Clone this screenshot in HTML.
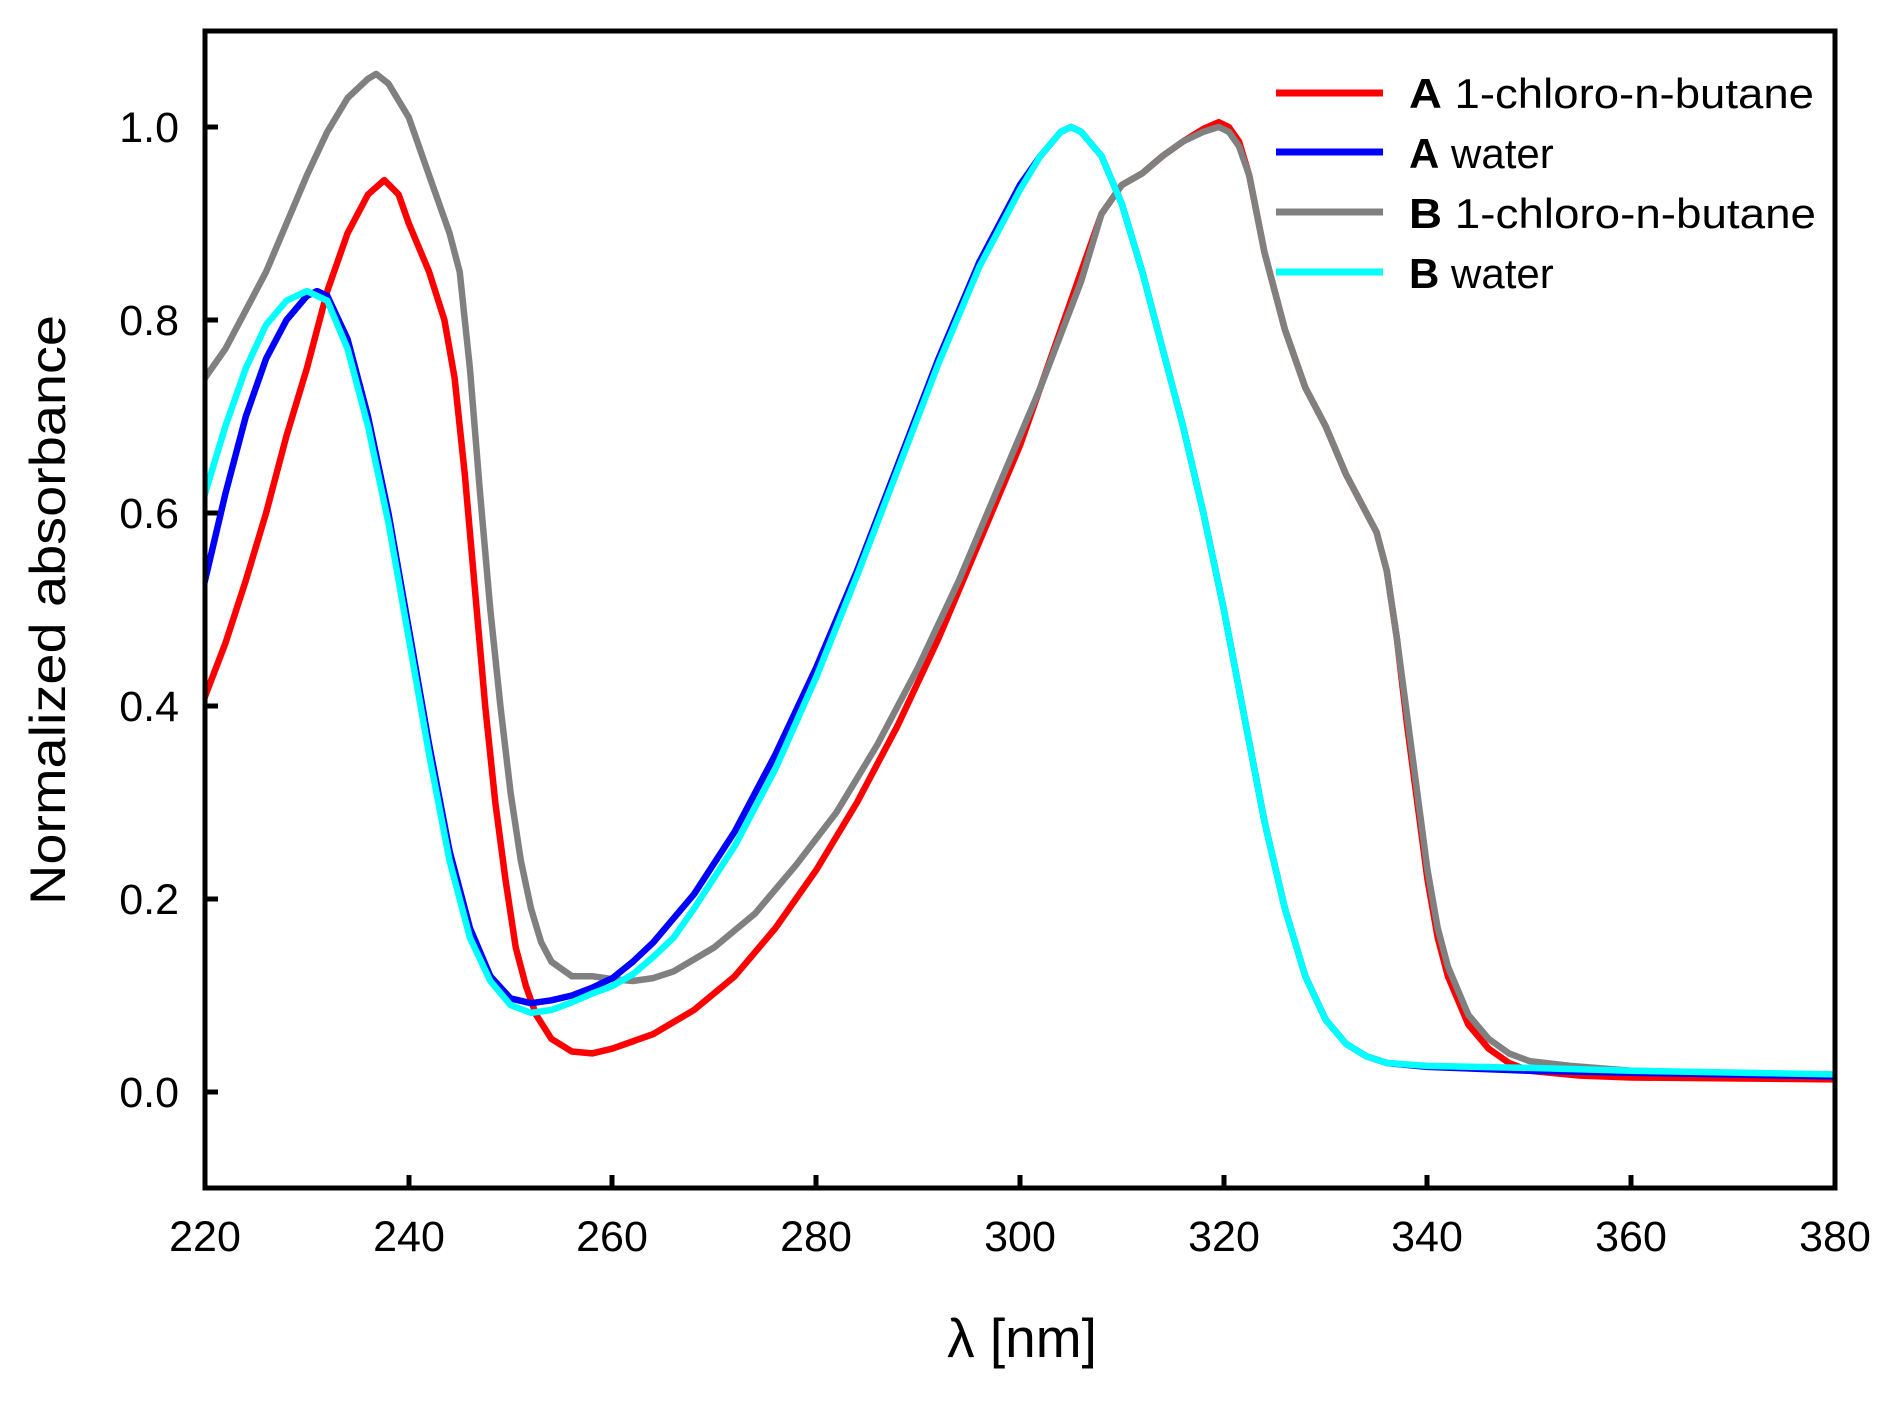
<!DOCTYPE html>
<html><head><meta charset="utf-8"><style>html,body{margin:0;padding:0;background:#fff}</style></head>
<body>
<svg id="s" width="1899" height="1398" viewBox="0 0 1899 1398" xmlns="http://www.w3.org/2000/svg" font-family="Liberation Sans, Arial, sans-serif">
<rect width="1899" height="1398" fill="#fff"/>
<defs><clipPath id="c"><rect x="205" y="31" width="1630" height="1157"/></clipPath></defs>
<g clip-path="url(#c)" fill="none" stroke-width="6.5" stroke-linejoin="round" stroke-linecap="round">
<polyline stroke="#ff0000" data-p="219,0.37 220,0.41 222,0.465 224,0.53 226,0.60 228,0.68 230,0.75 232,0.83 234,0.89 236,0.93 237.6,0.945 239,0.93 240,0.90 242,0.85 243.5,0.80 244.5,0.74 245.5,0.64 246.5,0.52 247.5,0.40 248.5,0.30 249.5,0.22 250.5,0.15 251.5,0.11 252.5,0.08 254,0.055 256,0.042 258,0.04 260,0.045 264,0.06 268,0.085 272,0.12 276,0.17 280,0.23 284,0.30 288,0.38 292,0.47 296,0.57 300,0.67 304,0.79 306,0.85 308,0.91 310,0.94 312,0.952 314,0.97 316,0.985 318,0.998 319.5,1.005 320.5,1.0 321.5,0.985 322.5,0.95 324,0.87 326,0.79 328,0.73 330,0.69 332,0.64 334,0.60 335,0.58 336,0.54 337,0.47 338,0.38 339,0.30 340,0.22 341,0.16 342,0.12 344,0.07 346,0.045 348,0.03 350,0.022 355,0.017 360,0.015 381,0.013"/>
<polyline stroke="#808080" data-p="219,0.72 220,0.74 222,0.77 224,0.81 226,0.85 228,0.90 230,0.95 232,0.995 234,1.03 236,1.05 236.8,1.055 238,1.045 240,1.01 242,0.95 244,0.89 245,0.85 246,0.75 247,0.62 248,0.50 249,0.40 250,0.31 251,0.24 252,0.19 253,0.155 254,0.135 256,0.12 258,0.12 260,0.117 262,0.115 264,0.118 266,0.125 270,0.15 274,0.185 278,0.235 282,0.29 286,0.36 290,0.44 294,0.53 298,0.63 302,0.73 306,0.84 308,0.91 310,0.94 312,0.952 314,0.97 316,0.985 318,0.995 319.5,1.0 320.5,0.995 321.5,0.98 322.5,0.95 324,0.87 326,0.79 328,0.73 330,0.69 332,0.64 334,0.60 335,0.58 336,0.54 337,0.47 338,0.39 339,0.31 340,0.23 341,0.17 342,0.13 344,0.08 346,0.055 348,0.04 350,0.032 354,0.027 360,0.022 381,0.017"/>
<polyline stroke="#0000ff" data-p="219,0.49 220,0.53 222,0.62 224,0.70 226,0.76 228,0.80 230,0.825 231,0.83 232,0.825 234,0.78 236,0.70 238,0.60 240,0.48 242,0.36 244,0.25 246,0.17 248,0.12 250,0.097 252,0.092 254,0.095 256,0.10 258,0.108 260,0.118 262,0.135 264,0.155 266,0.18 268,0.205 272,0.27 276,0.35 280,0.44 284,0.54 288,0.65 292,0.76 296,0.86 300,0.94 302,0.97 304,0.995 305,1.0 306,0.995 308,0.97 310,0.92 312,0.85 314,0.77 316,0.69 318,0.60 320,0.50 322,0.39 324,0.28 326,0.19 328,0.12 330,0.075 332,0.05 334,0.037 336,0.03 340,0.026 350,0.022 360,0.02 381,0.016"/>
<polyline stroke="#00ffff" data-p="219,0.58 220,0.62 222,0.69 224,0.75 226,0.795 228,0.82 230,0.83 232,0.82 234,0.77 236,0.69 238,0.59 240,0.47 242,0.35 244,0.24 246,0.16 248,0.115 250,0.09 252,0.082 254,0.085 256,0.093 258,0.102 260,0.11 262,0.122 264,0.14 266,0.16 268,0.19 272,0.255 276,0.335 280,0.43 284,0.535 288,0.645 292,0.755 296,0.855 300,0.935 302,0.97 304,0.995 305,1.0 306,0.995 308,0.97 310,0.92 312,0.85 314,0.77 316,0.69 318,0.60 320,0.50 322,0.39 324,0.28 326,0.19 328,0.12 330,0.075 332,0.05 334,0.037 336,0.03 340,0.027 350,0.025 360,0.022 381,0.018"/>
</g>
<rect x="205" y="31" width="1630" height="1157" fill="none" stroke="#000" stroke-width="5"/>
<g stroke="#000" stroke-width="5">
<path d="M205,1092h13M205,899h13M205,706h13M205,513h13M205,320h13M205,127h13"/>
<path d="M409,1188v-13M612,1188v-13M816,1188v-13M1020,1188v-13M1224,1188v-13M1427,1188v-13M1631,1188v-13"/>
</g>
<g font-size="43" text-anchor="end" fill="#000">
<text x="179" y="1107">0.0</text><text x="179" y="914">0.2</text><text x="179" y="721">0.4</text><text x="179" y="528">0.6</text><text x="179" y="335">0.8</text><text x="179" y="142">1.0</text>
</g>
<g font-size="43" text-anchor="middle" fill="#000">
<text x="205" y="1251">220</text><text x="409" y="1251">240</text><text x="612" y="1251">260</text><text x="816" y="1251">280</text><text x="1020" y="1251">300</text><text x="1224" y="1251">320</text><text x="1427" y="1251">340</text><text x="1631" y="1251">360</text><text x="1835" y="1251">380</text>
</g>
<text x="1022" y="1357" font-size="55" text-anchor="middle">λ [nm]</text>
<text transform="translate(65,610) rotate(-90)" font-size="50" text-anchor="middle" textLength="590" lengthAdjust="spacingAndGlyphs">Normalized absorbance</text>
<g stroke-width="7">
<line x1="1276" y1="93" x2="1383" y2="93" stroke="#ff0000"/>
<line x1="1276" y1="152" x2="1383" y2="152" stroke="#0000ff"/>
<line x1="1276" y1="212" x2="1383" y2="212" stroke="#808080"/>
<line x1="1276" y1="272" x2="1383" y2="272" stroke="#00ffff"/>
</g>
<g font-size="42" fill="#000">
<text x="1409" y="108" textLength="405" lengthAdjust="spacingAndGlyphs"><tspan font-weight="bold">A</tspan> 1-chloro-n-butane</text>
<text x="1409" y="168"><tspan font-weight="bold">A</tspan> water</text>
<text x="1409" y="228" textLength="407" lengthAdjust="spacingAndGlyphs"><tspan font-weight="bold">B</tspan> 1-chloro-n-butane</text>
<text x="1409" y="288"><tspan font-weight="bold">B</tspan> water</text>
</g>
</svg>
<script>
document.querySelectorAll('polyline[data-p]').forEach(function(p){
  var pts=p.getAttribute('data-p').trim().split(/\s+/).map(function(s){
    var a=s.split(','),x=+a[0],y=+a[1];
    return (205+(x-220)*10.1875).toFixed(1)+','+(1092-y*965).toFixed(1);
  });
  p.setAttribute('points',pts.join(' '));
});
</script>
</body></html>
